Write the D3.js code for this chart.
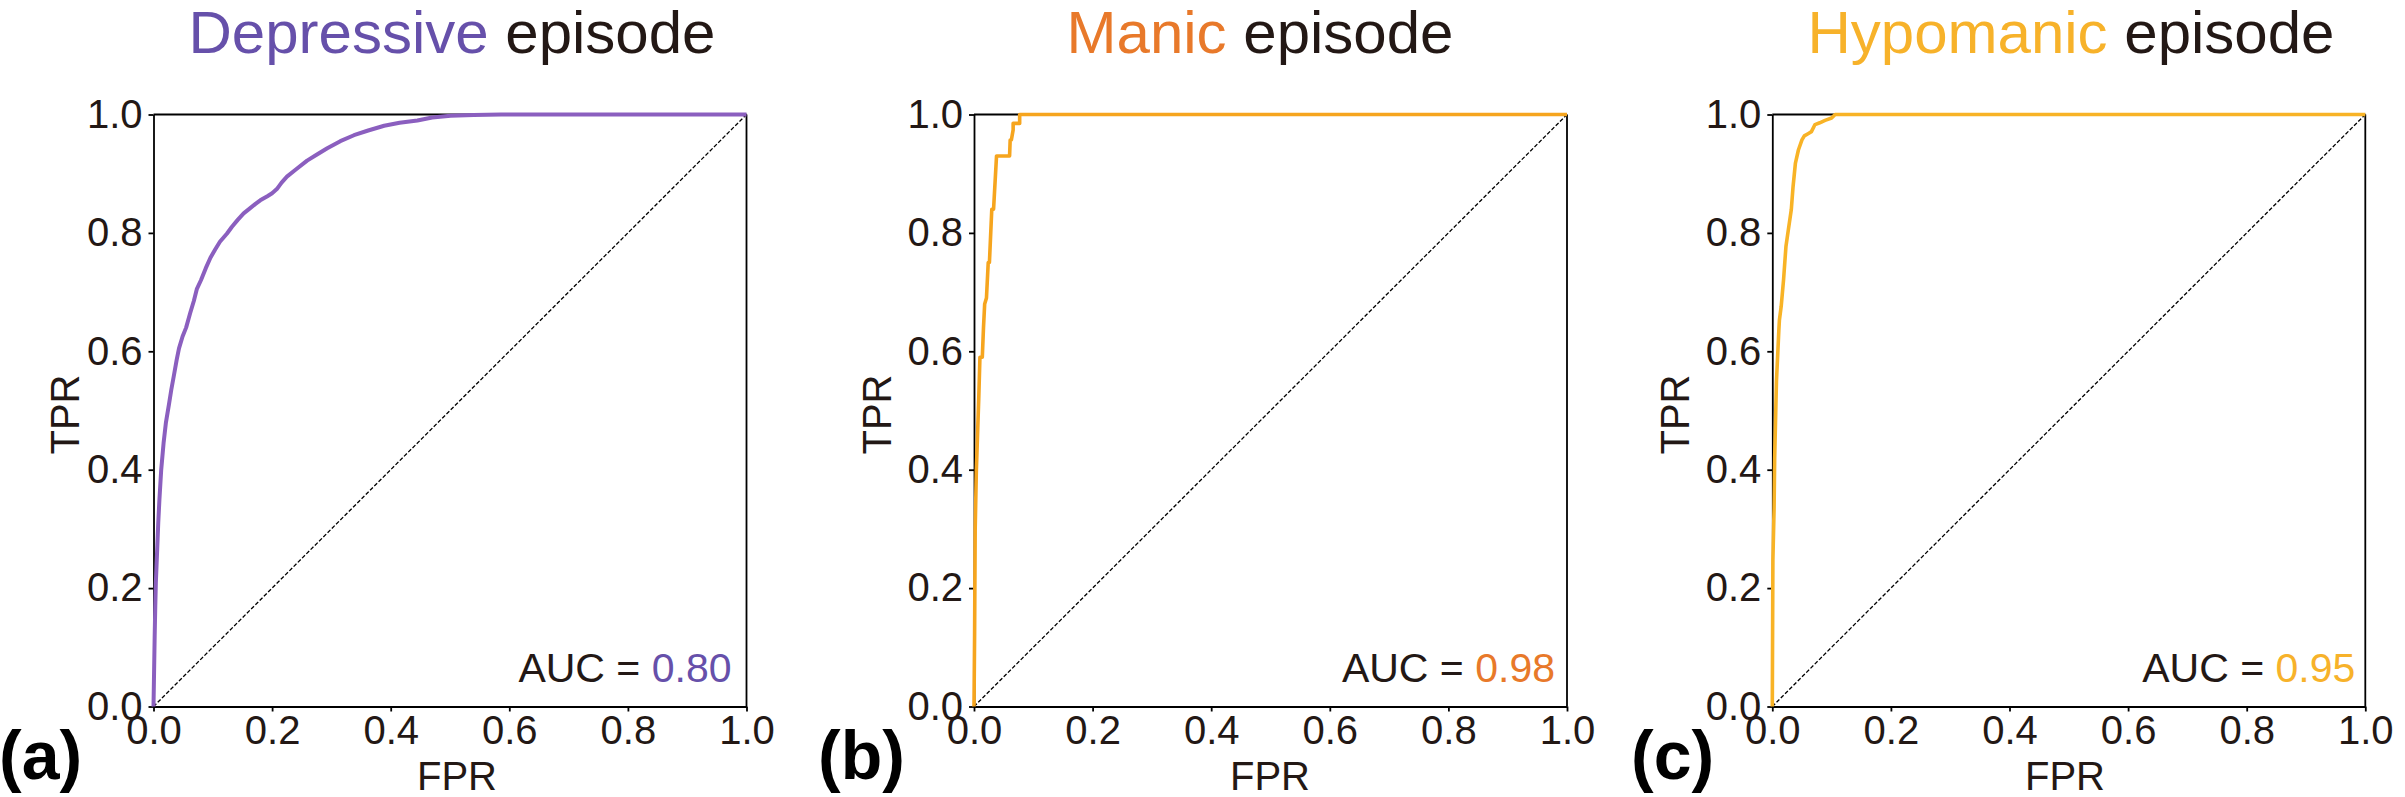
<!DOCTYPE html>
<html>
<head>
<meta charset="utf-8">
<script src="https://cdn.jsdelivr.net/npm/d3@7/dist/d3.min.js"></script>
<style>
  html, body { margin: 0; padding: 0; background: #ffffff; }
  svg { display: block; }
  text { font-family: "Liberation Sans", Arial, sans-serif; }
</style>
</head>
<body>
<svg id="chart" width="2405" height="797"></svg>
<script>
// ---------------- data ----------------
const episodeNames = ["Depressive", "Manic", "Hypomanic"];
const titleSuffix = "episode";
const panelLetters = ["(a)", "(b)", "(c)"];
const aucLabels = ["0.80", "0.98", "0.95"];
const tickValues = [0, 0.2, 0.4, 0.6, 0.8, 1.0];
const xAxisLabel = "FPR";
const yAxisLabel = "TPR";

const depressiveFPR = [0, 0.001, 0.002, 0.003, 0.004, 0.006, 0.008, 0.010, 0.013, 0.017, 0.021, 0.026, 0.030, 0.034, 0.039, 0.043, 0.049, 0.055, 0.062, 0.068, 0.073, 0.080, 0.088, 0.096, 0.104, 0.112, 0.124, 0.132, 0.142, 0.152, 0.162, 0.172, 0.180, 0.192, 0.200, 0.208, 0.216, 0.225, 0.240, 0.259, 0.275, 0.293, 0.315, 0.338, 0.362, 0.389, 0.415, 0.445, 0.470, 0.501, 0.540, 0.586, 1.0];
const depressiveTPR = [0, 0.06, 0.12, 0.17, 0.21, 0.26, 0.31, 0.35, 0.40, 0.445, 0.48, 0.51, 0.535, 0.557, 0.585, 0.605, 0.625, 0.64, 0.665, 0.685, 0.705, 0.72, 0.74, 0.758, 0.772, 0.785, 0.799, 0.81, 0.822, 0.833, 0.841, 0.849, 0.855, 0.862, 0.867, 0.874, 0.885, 0.895, 0.907, 0.922, 0.932, 0.943, 0.955, 0.965, 0.973, 0.981, 0.986, 0.99, 0.995, 0.998, 0.999, 1.0, 1.0];

const manicFPR = [0, 0.001, 0.002, 0.004, 0.006, 0.008, 0.010, 0.014, 0.016, 0.018, 0.021, 0.024, 0.026, 0.030, 0.033, 0.038, 0.060, 0.061, 0.063, 0.066, 0.066, 0.077, 0.077, 1.0];
const manicTPR = [0, 0.12, 0.30, 0.40, 0.46, 0.52, 0.59, 0.59, 0.64, 0.68, 0.69, 0.75, 0.75, 0.84, 0.84, 0.93, 0.93, 0.957, 0.957, 0.974, 0.985, 0.985, 1.0, 1.0];

const hypomanicFPR = [0, 0.001, 0.003, 0.004, 0.007, 0.011, 0.012, 0.015, 0.019, 0.023, 0.027, 0.032, 0.035, 0.039, 0.044, 0.050, 0.054, 0.061, 0.066, 0.072, 0.080, 0.089, 0.100, 0.106, 1.0];
const hypomanicTPR = [0, 0.248, 0.334, 0.42, 0.549, 0.635, 0.653, 0.676, 0.721, 0.777, 0.805, 0.839, 0.878, 0.918, 0.94, 0.957, 0.964, 0.968, 0.971, 0.983, 0.986, 0.99, 0.994, 1.0, 1.0];

const seriesFPR = [depressiveFPR, manicFPR, hypomanicFPR];
const seriesTPR = [depressiveTPR, manicTPR, hypomanicTPR];

// ---------------- layout & style ----------------
const layout = {
  top: 114.5, bottom: 706.5,
  lefts: [153.5, 974, 1772.3],
  width: 593,
  titleX: [452, 1260, 2071], titleY: 53,
  letterX: [-1, 818, 1631], letterY: 779,
  yLabelX: [79, 891, 1689],
  xLabelX: [457, 1270, 2065], xLabelY: 790,
  aucRightInset: [15, 12, 10], aucY: 682
};
const titleColors = ["#6650AA", "#E8792A", "#F7B22A"];
const lineColors = ["#8B5FBF", "#F6A51E", "#F8B326"];
const darkText = "#231815";

const svg = d3.select("#chart");
svg.append("rect").attr("width", 2405).attr("height", 797).attr("fill", "#fff");

episodeNames.forEach((name, i) => {
  const x0 = layout.lefts[i];
  const x = d3.scaleLinear().domain([0, 1]).range([x0, x0 + layout.width]);
  const y = d3.scaleLinear().domain([0, 1]).range([layout.bottom, layout.top]);
  const g = svg.append("g");

  // title
  const t = g.append("text")
    .attr("x", layout.titleX[i]).attr("y", layout.titleY)
    .attr("text-anchor", "middle")
    .attr("font-size", 60);
  t.append("tspan").attr("fill", titleColors[i]).text(name);
  t.append("tspan").attr("fill", darkText).text(" " + titleSuffix);

  // frame top/right
  g.append("line").attr("x1", x(0)).attr("x2", x(1)).attr("y1", y(1)).attr("y2", y(1))
    .attr("stroke", "#000").attr("stroke-width", 1.8);
  g.append("line").attr("x1", x(1)).attr("x2", x(1)).attr("y1", y(0)).attr("y2", y(1))
    .attr("stroke", "#000").attr("stroke-width", 1.8);

  // axes
  const fmt = d3.format(".1f");
  const xAxis = g.append("g").attr("transform", `translate(0,${layout.bottom})`)
    .call(d3.axisBottom(x).tickValues(tickValues).tickFormat(fmt).tickSize(5).tickPadding(4).tickSizeOuter(0));
  const yAxis = g.append("g").attr("transform", `translate(${x0},0)`)
    .call(d3.axisLeft(y).tickValues(tickValues).tickFormat(fmt).tickSize(5).tickPadding(6).tickSizeOuter(0));
  [xAxis, yAxis].forEach(ax => {
    ax.select(".domain").attr("stroke", "#000").attr("stroke-width", 1.8);
    ax.selectAll(".tick line").attr("stroke", "#000").attr("stroke-width", 1.8);
    ax.selectAll(".tick text").attr("fill", darkText)
      .attr("font-size", 40)
      .attr("font-family", '"Liberation Sans", Arial, sans-serif');
  });

  // diagonal
  g.append("line").attr("x1", x(0)).attr("y1", y(0)).attr("x2", x(1)).attr("y2", y(1))
    .attr("stroke", "#000").attr("stroke-width", 1.3).attr("stroke-dasharray", "4,2");

  // ROC curve
  const pts = seriesFPR[i].map((f, k) => [f, seriesTPR[i][k]]);
  const line = d3.line().x(d => x(d[0])).y(d => y(d[1]));
  g.append("path").datum(pts).attr("d", line)
    .attr("fill", "none").attr("stroke", lineColors[i])
    .attr("stroke-width", i === 0 ? 4 : 3.6)
    .attr("stroke-linejoin", "round");

  // AUC
  const a = g.append("text")
    .attr("x", x(1) - layout.aucRightInset[i]).attr("y", layout.aucY)
    .attr("text-anchor", "end").attr("font-size", 41);
  a.append("tspan").attr("fill", darkText).text("AUC = ");
  a.append("tspan").attr("fill", titleColors[i]).text(aucLabels[i]);

  // axis labels
  g.append("text").attr("x", layout.xLabelX[i]).attr("y", layout.xLabelY)
    .attr("text-anchor", "middle").attr("font-size", 40).attr("fill", darkText)
    .text(xAxisLabel);
  g.append("text")
    .attr("transform", `translate(${layout.yLabelX[i]},${(layout.top + layout.bottom) / 2 + 4}) rotate(-90)`)
    .attr("text-anchor", "middle").attr("font-size", 40).attr("fill", darkText)
    .text(yAxisLabel);

  // panel letter
  g.append("text").attr("x", layout.letterX[i]).attr("y", layout.letterY)
    .attr("font-size", 68).attr("font-weight", "bold").attr("fill", "#000")
    .text(panelLetters[i]);
});
</script>
</body>
</html>
